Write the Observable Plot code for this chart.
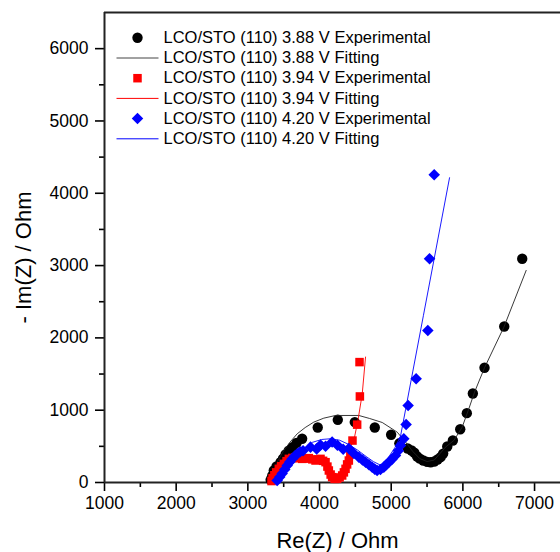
<!DOCTYPE html>
<html><head><meta charset="utf-8">
<script src="https://cdn.jsdelivr.net/npm/d3@7"></script>
<script src="https://cdn.jsdelivr.net/npm/@observablehq/plot@0.6"></script>
<style>
body{margin:0;background:#fff}
svg{font-family:Arial,"Liberation Sans",sans-serif}
</style>
</head><body><div id="chart"></div>
<script>
// Re(Z), -Im(Z) in Ohm
const exp388 = [[3318,37],[3340,95],[3362,166],[3400,222],[3456,281],[3490,330],[3526,387],[3570,440],[3623,489],[3680,548],[3757,605],[3975,761],[4255,867],[4492,835],[4771,761],[4999,660],[5114,542],[5230,470],[5284,443],[5323,411],[5362,360],[5400,330],[5448,304],[5502,285],[5550,280],[5600,290],[5647,318],[5690,350],[5725,400],[5782,498],[5860,581],[5963,737],[6055,959],[6139,1231],[6302,1587],[6577,2158],[6828,3095]];
const fit388 = [[3310,0],[3362,166],[3420,300],[3502,443],[3590,560],[3688,673],[3800,760],[3920,835],[4060,890],[4223,927],[4548,927],[4700,885],[4875,830],[5084,696],[5200,560],[5300,430],[5400,330],[5500,290],[5600,310],[5680,400],[5758,489],[5874,581],[5990,765],[6083,1019],[6163,1250],[6302,1587],[6572,2149],[6883,2933]];
const exp394 = [[3330,20],[3345,60],[3370,100],[3395,140],[3432,189],[3465,225],[3502,258],[3540,295],[3572,327],[3620,340],[3665,350],[3710,335],[3758,327],[3800,330],[3851,337],[3900,320],[3944,304],[3980,315],[4014,327],[4050,300],[4084,281],[4110,220],[4130,166],[4155,110],[4176,74],[4210,50],[4246,51],[4280,70],[4316,97],[4340,140],[4363,189],[4385,250],[4409,304],[4430,400],[4460,580],[4525,800],[4563,1190],[4558,1665]];
const fit394 = [[3330,0],[3400,120],[3500,215],[3620,285],[3750,320],[3880,330],[4000,300],[4100,230],[4180,140],[4240,70],[4290,130],[4350,280],[4432,489],[4488,627],[4536,858],[4596,1227],[4642,1735]];
const exp420 = [[3409,28],[3445,75],[3479,125],[3515,180],[3549,235],[3585,285],[3619,327],[3655,365],[3690,396],[3730,425],[3770,440],[3874,489],[3960,465],[4014,520],[4084,500],[4176,560],[4250,515],[4330,460],[4409,470],[4479,400],[4549,350],[4600,310],[4642,280],[4690,245],[4735,212],[4770,185],[4804,166],[4850,180],[4897,212],[4930,245],[4967,281],[5010,320],[5060,374],[5100,440],[5130,512],[5176,604],[5208,802],[5236,1065],[5348,1435],[5511,2103],[5535,3095],[5600,4257]];
const fit420 = [[3400,0],[3450,90],[3532,248],[3650,380],[3781,470],[3900,555],[4030,595],[4153,605],[4279,585],[4400,530],[4528,450],[4650,360],[4750,290],[4850,240],[4950,330],[5050,480],[5130,640],[5200,1006],[5300,1529],[5450,2313],[5600,3097],[5814,4215]];

const legendLabels = ["LCO/STO (110) 3.88 V Experimental","LCO/STO (110) 3.88 V Fitting","LCO/STO (110) 3.94 V Experimental","LCO/STO (110) 3.94 V Fitting","LCO/STO (110) 4.20 V Experimental","LCO/STO (110) 4.20 V Fitting"];
const xTicks = [1000,2000,3000,4000,5000,6000,7000];
const xMinor = [1500,2500,3500,4500,5500,6500];
const yTicks = [0,1000,2000,3000,4000,5000,6000];
const yMinor = [500,1500,2500,3500,4500,5500];

const colors = ["black","red","blue"];
const symbols = ["circle","square","diamond2"];
const radii = [5.2,4.8,5.2];
const lineSymbol = {draw(ctx){ctx.moveTo(-21,0);ctx.lineTo(21,0);}};

const X = d => d[0], Y = d => d[1];
const marks = [
  Plot.axisX(xTicks, {tickSize:9, tickPadding:5, fontSize:17.5, tickFormat:"d", strokeWidth:1.6, label:null}),
  Plot.axisX(xMinor, {tickSize:5, text:null, strokeWidth:1.6, label:null}),
  Plot.axisY(yTicks, {tickSize:9, tickPadding:7, fontSize:17.5, tickFormat:"d", strokeWidth:1.6, label:null}),
  Plot.axisY(yMinor, {tickSize:5, text:null, strokeWidth:1.6, label:null}),
  Plot.ruleY([0], {stroke:"#222", strokeWidth:2}),
  Plot.ruleY([6500], {stroke:"#222", strokeWidth:2}),
  Plot.ruleX([1000], {stroke:"#222", strokeWidth:2}),
  Plot.dot(exp388, {x:X, y:Y, r:radii[0], fill:colors[0], symbol:symbols[0]}),
  Plot.line(fit388, {x:X, y:Y, stroke:"#222", strokeWidth:0.9}),
  Plot.dot(exp394, {x:X, y:Y, r:radii[1], fill:colors[1], symbol:symbols[1]}),
  Plot.line(fit394, {x:X, y:Y, stroke:"#f00", strokeWidth:0.9}),
  Plot.dot(exp420, {x:X, y:Y, r:radii[2], fill:colors[2], symbol:symbols[2]}),
  Plot.line(fit420, {x:X, y:Y, stroke:"#00f", strokeWidth:0.9}),
  Plot.text(["Re(Z) / Ohm"], {frameAnchor:"bottom", dx:5, dy:58, fontSize:22, fill:"black", textAnchor:"middle", lineAnchor:"middle"}),
  Plot.text(["- Im(Z) / Ohm"], {frameAnchor:"left", dx:-80.5, dy:10, rotate:-90, fontSize:22, fill:"black", textAnchor:"middle", lineAnchor:"middle"})
];
legendLabels.forEach((label, i) => {
  const k = Math.floor(i/2), isFit = i % 2 === 1;
  const dy = 25.3 + i*20.2;
  if (isFit) {
    marks.push(Plot.dot([label], {frameAnchor:"top-left", dx:33, dy, symbol:lineSymbol, r:1, fill:"none", stroke:k===0?"#444":colors[k], strokeWidth:1}));
  } else {
    marks.push(Plot.dot([label], {frameAnchor:"top-left", dx:33, dy, symbol:symbols[k], r:radii[k], fill:colors[k], stroke:"none"}));
  }
  marks.push(Plot.text([label], {frameAnchor:"top-left", dx:59, dy, text:d=>d, textAnchor:"start", lineAnchor:"middle", fontSize:16.5, fill:"black"}));
});

const chart = Plot.plot({
  width:560, height:552,
  marginLeft:104, marginTop:12, marginBottom:70, marginRight:0,
  x:{domain:[1000,7362]},
  y:{domain:[0,6500]},
  style:{color:"black", background:"white", overflow:"visible"},
  marks
});
document.getElementById("chart").appendChild(chart);
</script>
</body></html>
